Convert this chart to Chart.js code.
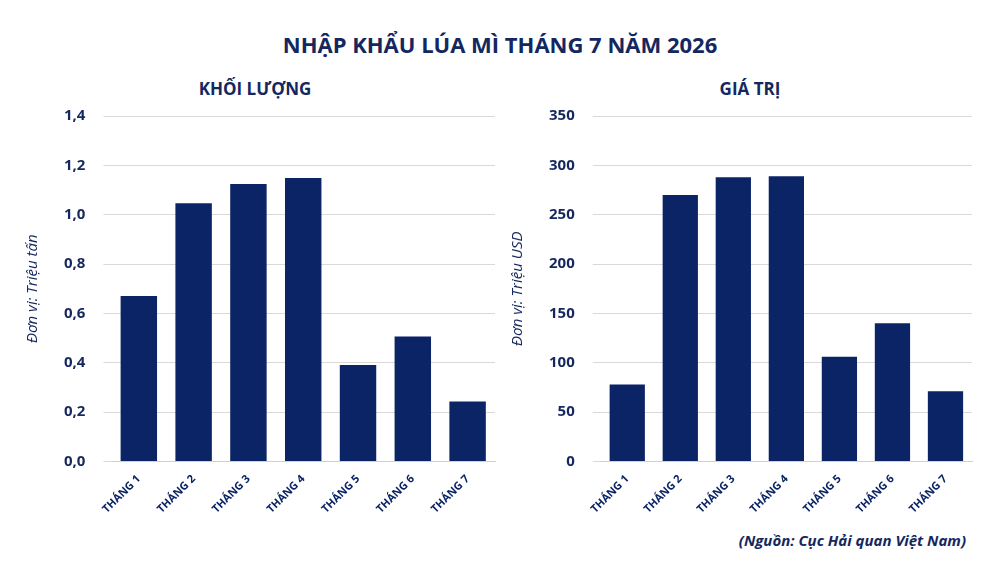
<html>
<head>
<script src="https://cdn.jsdelivr.net/npm/chart.js@4.4.0/dist/chart.umd.min.js"></script>
<style>
body{margin:0;width:1000px;height:563px;background:#fff;font-family:"Open Sans",sans-serif;color:#14275e;position:relative;overflow:hidden}
.t{position:absolute;left:0;width:1000px;text-align:center;top:29px;font-size:22px;font-weight:700}
.s{position:absolute;top:77px;font-size:17px;font-weight:700;text-align:center;width:300px}
.src{position:absolute;right:34px;top:530px;font-size:15px;font-weight:700;font-style:italic}
.c{position:absolute;top:89px;width:500px;height:430px}
</style>
</head>
<body>
<div class="t">NHẬP KHẨU LÚA MÌ THÁNG 7 NĂM 2026</div>
<div class="s" style="left:105px">KHỐI LƯỢNG</div>
<div class="s" style="left:600px">GIÁ TRỊ</div>
<div class="c" style="left:0"><canvas id="a"></canvas></div>
<div class="c" style="left:485px"><canvas id="b"></canvas></div>
<div class="src">(Nguồn: Cục Hải quan Việt Nam)</div>
<script>
var months = ['THÁNG 1','THÁNG 2','THÁNG 3','THÁNG 4','THÁNG 5','THÁNG 6','THÁNG 7'];
var volume = [0.67, 1.046, 1.124, 1.149, 0.391, 0.506, 0.243];
var value = [78, 270, 288, 289, 106, 140, 71];
var navy = '#0a2466';

function mk(id, data, max, step, unit, fmt, padR){
  new Chart(document.getElementById(id), {
    type:'bar',
    data:{labels:months, datasets:[{data:data, backgroundColor:navy, categoryPercentage:0.95, barPercentage:0.7}]},
    options:{
      responsive:true, maintainAspectRatio:false, animation:false,
      layout:{padding:{left:20,right:padR,top:20}},
      plugins:{legend:{display:false}, tooltip:{enabled:false}},
      scales:{
        x:{grid:{display:false}, border:{color:'#d0d0d0'},
           ticks:{color:navy, maxRotation:45, minRotation:45, font:{family:'Open Sans', size:11, weight:'bold'}}},
        y:{min:0, max:max, border:{display:false}, grid:{color:'#d9d9d9'},
           ticks:{stepSize:step, color:'#14275e', padding:18, font:{family:'Open Sans', size:15, weight:'bold'}, callback:fmt},
           title:{display:true, text:unit, color:'#14275e', font:{family:'Open Sans', size:15, style:'italic'}}}
      }
    }
  });
}
mk('a', volume, 1.4, 0.2, 'Đơn vị: Triệu tấn', v => v.toFixed(1).replace('.', ','), 5);
mk('b', value, 350, 50, 'Đơn vị: Triệu USD', v => v, 13);
</script>
</body>
</html>
